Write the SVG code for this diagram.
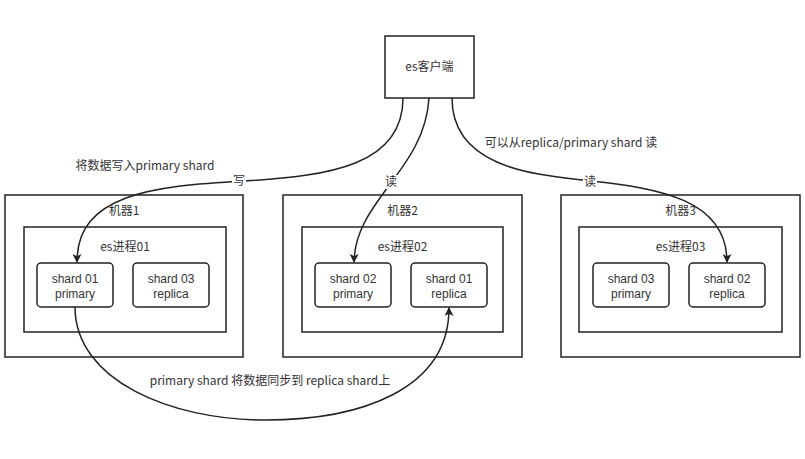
<svg xmlns="http://www.w3.org/2000/svg" width="805" height="459" viewBox="0 0 805 459">
  <style>
    text { font-family: "Noto Sans CJK SC", "Liberation Sans", sans-serif; font-size: 12px; fill: #333; text-anchor: middle; }
    text.latin { font-family: "Liberation Sans", "Noto Sans CJK SC", sans-serif; font-size: 12px; }
    .box { fill: #fff; stroke: #222; stroke-width: 1.5; }
    .shard { fill: #fff; stroke: #222; stroke-width: 1.5; }
    .edge { fill: none; stroke: #222; stroke-width: 1.5; }
    .lbg { fill: #fff; }
  </style>
  <defs>
    <marker id="arrow" viewBox="0 0 10 10" refX="9" refY="5" markerWidth="11" markerHeight="9" markerUnits="userSpaceOnUse" orient="auto">
      <path d="M0,0 L10,5 L0,10 L2.5,5 z" fill="#222"/>
    </marker>
  </defs>
  <rect width="805" height="459" fill="#fff"/>

  <!-- client -->
  <g id="client">
    <rect class="box" x="385" y="36" width="89" height="62"/>
    <text x="429.5" y="71">es客户端</text>
  </g>

  <!-- machine 1 -->
  <g id="machine1">
    <rect class="box" x="5" y="195" width="238" height="162"/>
    <text x="124" y="215">机器1</text>
    <g id="process01">
      <rect class="box" x="24" y="227" width="202" height="105"/>
      <text x="125" y="251">es进程01</text>
      <g id="m1-shard01-primary">
        <rect class="shard" x="37" y="263" width="76" height="44" rx="4"/>
        <text class="latin" x="75" y="283">shard 01</text>
        <text class="latin" x="75" y="298">primary</text>
      </g>
      <g id="m1-shard03-replica">
        <rect class="shard" x="133" y="263" width="76" height="44" rx="4"/>
        <text class="latin" x="171" y="283">shard 03</text>
        <text class="latin" x="171" y="298">replica</text>
      </g>
    </g>
  </g>

  <!-- machine 2 -->
  <g id="machine2">
    <rect class="box" x="283" y="195" width="239" height="162"/>
    <text x="402.5" y="215">机器2</text>
    <g id="process02">
      <rect class="box" x="302" y="227" width="201" height="105"/>
      <text x="402.5" y="251">es进程02</text>
      <g id="m2-shard02-primary">
        <rect class="shard" x="315" y="263" width="76" height="44" rx="4"/>
        <text class="latin" x="353" y="283">shard 02</text>
        <text class="latin" x="353" y="298">primary</text>
      </g>
      <g id="m2-shard01-replica">
        <rect class="shard" x="411" y="263" width="76" height="44" rx="4"/>
        <text class="latin" x="449" y="283">shard 01</text>
        <text class="latin" x="449" y="298">replica</text>
      </g>
    </g>
  </g>

  <!-- machine 3 -->
  <g id="machine3">
    <rect class="box" x="561" y="195" width="239" height="162"/>
    <text x="680.5" y="215">机器3</text>
    <g id="process03">
      <rect class="box" x="579" y="227" width="203" height="105"/>
      <text x="680.5" y="251">es进程03</text>
      <g id="m3-shard03-primary">
        <rect class="shard" x="593" y="263" width="76" height="44" rx="4"/>
        <text class="latin" x="631" y="283">shard 03</text>
        <text class="latin" x="631" y="298">primary</text>
      </g>
      <g id="m3-shard02-replica">
        <rect class="shard" x="689" y="263" width="76" height="44" rx="4"/>
        <text class="latin" x="727" y="283">shard 02</text>
        <text class="latin" x="727" y="298">replica</text>
      </g>
    </g>
  </g>

  <!-- connectors -->
  <g id="connectors">
    <!-- write to primary -->
    <path class="edge" d="M403,98 C403,165 330,176 245,181 C150,186 77,195 77,262" marker-end="url(#arrow)"/>
    <!-- read from machine 2 -->
    <path class="edge" d="M429,98 C425,170 355,200 354,262" marker-end="url(#arrow)"/>
    <!-- read from machine 3 -->
    <path class="edge" d="M452,98 C452,170 540,175 590,181 C660,188 727,200 727,262" marker-end="url(#arrow)"/>
    <!-- primary to replica sync -->
    <path class="edge" d="M75,307 C75,380 170,420 265,420 C360,420 449,390 449,308" marker-end="url(#arrow)"/>

    <rect class="lbg" x="232" y="174" width="14" height="14"/>
    <text x="239" y="185">写</text>
    <rect class="lbg" x="384" y="175" width="14" height="14"/>
    <text x="391" y="186">读</text>
    <rect class="lbg" x="583" y="175" width="14" height="14"/>
    <text x="590" y="186">读</text>

    <text x="145" y="170">将数据写入primary shard</text>
    <text x="571" y="147">可以从replica/primary shard 读</text>
    <text x="270" y="385">primary shard 将数据同步到 replica shard上</text>
  </g>
</svg>
